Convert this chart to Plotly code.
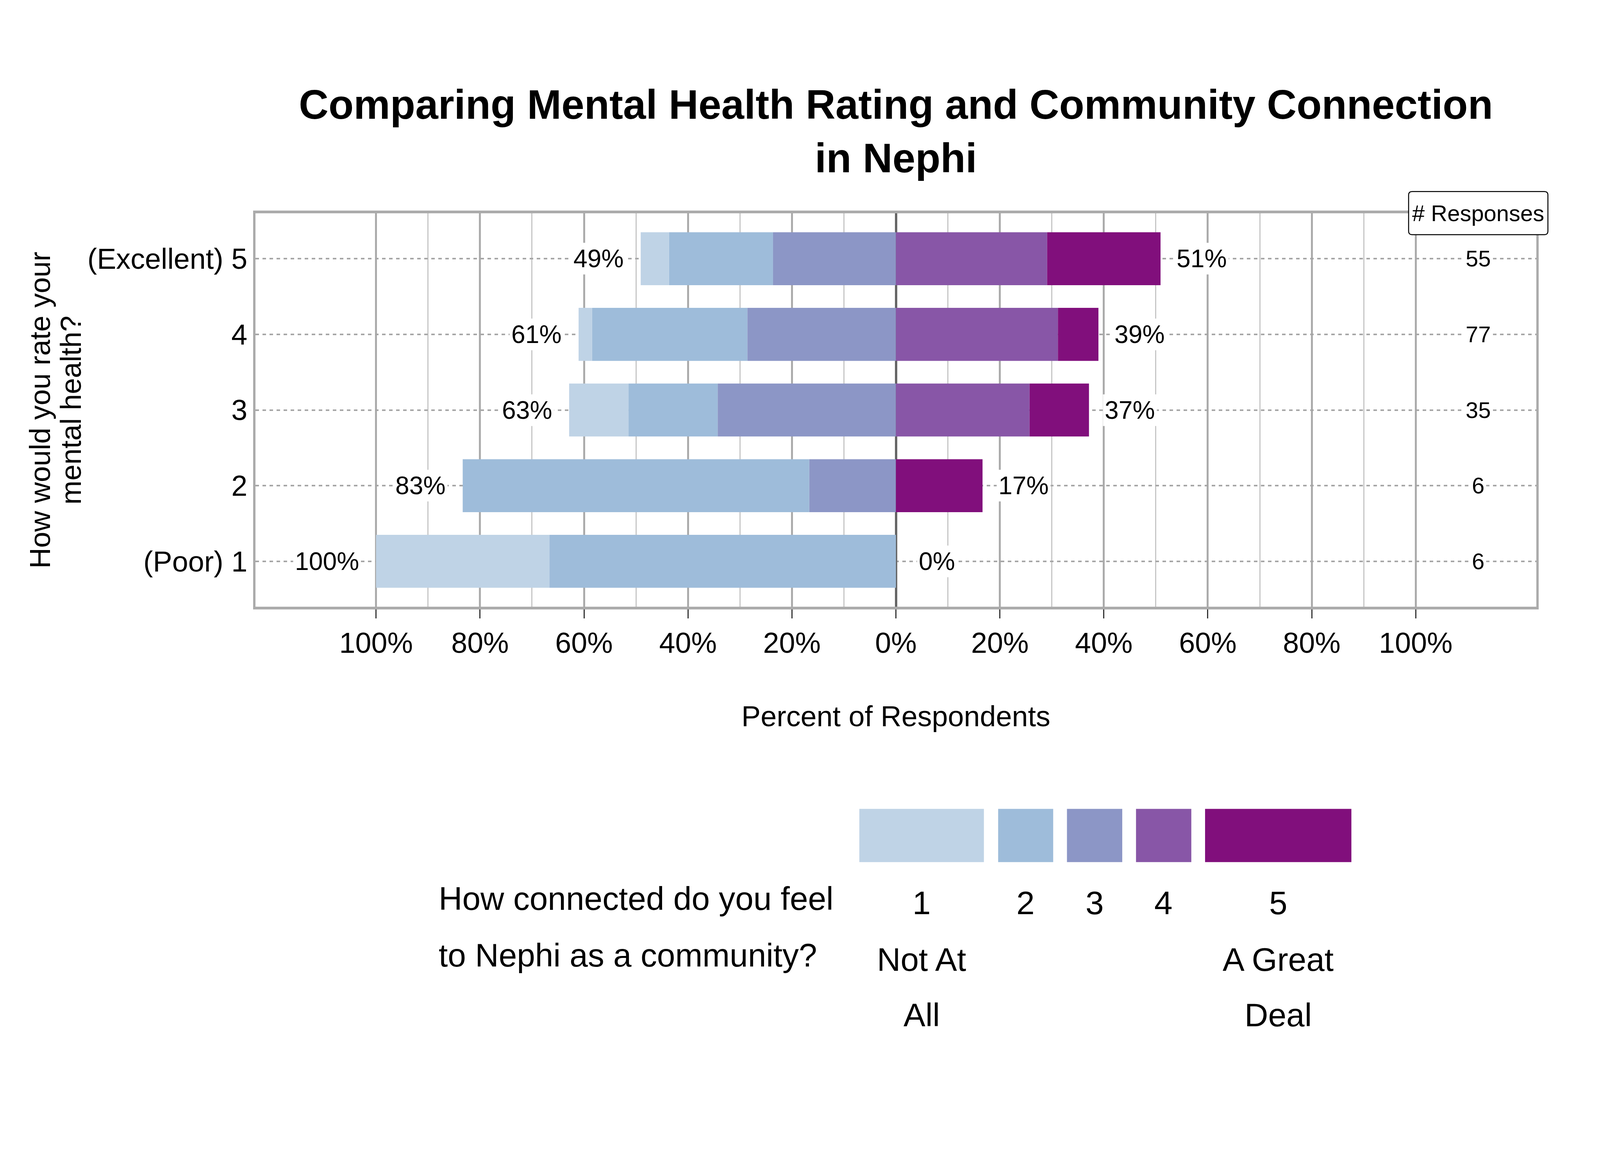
import plotly.graph_objects as go

# mental health rating (rows) and its tick labels
ratings = [1, 2, 3, 4, 5]
rating_labels = ["(Poor) 1", "2", "3", "4", "(Excellent) 5"]

# responses per community-connection level, for mental health ratings 1..5
conn_1 = [2, 0, 4, 2, 3]
conn_2 = [4, 4, 6, 23, 11]
conn_3 = [0, 1, 12, 22, 13]
conn_4 = [0, 0, 9, 24, 16]
conn_5 = [0, 1, 4, 6, 12]
n_responses = [6, 6, 35, 77, 55]

legend_labels = ["1<br>Not At<br>All", "2", "3", "4", "5<br>A Great<br>Deal"]
colors = ["#BFD3E6", "#9EBCDA", "#8C96C6", "#8856A7", "#810F7C"]

FONT = "Liberation Sans, Arial, sans-serif"

# the window is 4096x3000 (8px body margin); layout measured on the 6600x3000 reference
W, H = 4080, 2984
SX, SY = W / 6600, H / 3000
FS = 0.63  # font scale
L, R, T, B = 1045 * SX, 6350 * SX, 541 * SY, 1553 * SY


def ax_(x_ref, dx=0):
    return (x_ref * SX + dx - L) / (R - L)


def ay_(y_ref, dy=0):
    return (B - (y_ref * SY + dy)) / (B - T)


def mid(size):
    # offset from baseline to the centre of a one-line text box
    return -0.45 * size


def pct(counts):
    return [c / n * 100 for c, n in zip(counts, n_responses)]


levels = [pct(conn_1), pct(conn_2), pct(conn_3), pct(conn_4), pct(conn_5)]
left_tot = [a + b + c for a, b, c in zip(levels[0], levels[1], levels[2])]
right_tot = [a + b for a, b in zip(levels[3], levels[4])]

fig = go.Figure()

# low-connection side stacks outward from 0: level 3, then 2, then 1
for k in [2, 1, 0]:
    fig.add_trace(go.Bar(
        y=ratings, x=[-v for v in levels[k]], orientation="h",
        marker=dict(color=colors[k], line=dict(width=0)),
        width=0.7, showlegend=False, name=str(k + 1),
    ))
for k in [3, 4]:
    fig.add_trace(go.Bar(
        y=ratings, x=levels[k], orientation="h",
        marker=dict(color=colors[k], line=dict(width=0)),
        width=0.7, showlegend=False, name=str(k + 1),
    ))

annotations = []
shapes = []
f_pct, f_n, f_ax, f_leg, f_title = 102 * FS, 92 * FS, 117 * FS, 133 * FS, 167 * FS

# percent labels either side of the bars
for y, lt, rt in zip(ratings, left_tot, right_tot):
    annotations.append(dict(
        x=-lt, y=y, xref="x", yref="y", text=f"{round(lt):.0f}%",
        xanchor="right", yanchor="middle", xshift=-(67 - 5) * SX, showarrow=False,
        bgcolor="white", borderpad=4, font=dict(size=f_pct, color="black"),
    ))
    annotations.append(dict(
        x=rt, y=y, xref="x", yref="y", text=f"{round(rt):.0f}%",
        xanchor="center", yanchor="middle", xshift=170 * SX, showarrow=False,
        bgcolor="white", borderpad=4, font=dict(size=f_pct, color="black"),
    ))

# response counts column
for y, n in zip(ratings, n_responses):
    annotations.append(dict(
        x=112, y=y, xref="x", yref="y", text=str(n), showarrow=False,
        xanchor="center", yanchor="middle",
        bgcolor="white", borderpad=4, font=dict(size=f_n, color="black"),
    ))

# rounded label box for the counts header
bx0, bx1, by0, by1, rad = 5821 * SX, 6398 * SX, 485 * SY, 596 * SY, 9
pw, ph = R - L, B - T


def pt(x, y):
    return f"{(x - L) / pw:.5f},{(B - y) / ph:.5f}"


shapes.append(dict(
    type="path", xref="paper", yref="paper", layer="above",
    path=(f"M {pt(bx0 + rad, by0)} L {pt(bx1 - rad, by0)} Q {pt(bx1, by0)} {pt(bx1, by0 + rad)}"
          f" L {pt(bx1, by1 - rad)} Q {pt(bx1, by1)} {pt(bx1 - rad, by1)}"
          f" L {pt(bx0 + rad, by1)} Q {pt(bx0, by1)} {pt(bx0, by1 - rad)}"
          f" L {pt(bx0, by0 + rad)} Q {pt(bx0, by0)} {pt(bx0 + rad, by0)} Z"),
    fillcolor="white", line=dict(color="black", width=2.5),
))
annotations.append(dict(
    x=ax_((5821 + 6398) / 2), y=ay_((485 + 596) / 2), xref="paper", yref="paper",
    text="# Responses", showarrow=False, xanchor="center", yanchor="middle",
    font=dict(size=f_n, color="black"),
))

# axis titles
annotations.append(dict(
    x=0.5, y=ay_(1868, mid(f_ax)), xref="paper", yref="paper",
    text="Percent of Respondents", showarrow=False,
    xanchor="center", yanchor="middle", font=dict(size=f_ax, color="black"),
))
for line, base in zip(["How would you rate your", "mental health?"], [207, 335]):
    annotations.append(dict(
        x=ax_(base, mid(f_ax)), y=0.5, xref="paper", yref="paper",
        textangle=-90, text=line, showarrow=False,
        xanchor="center", yanchor="middle", font=dict(size=f_ax, color="black"),
    ))

# legend drawn by hand, ggplot-style
legend_boxes = [(3546, 4062), (4121, 4349), (4406, 4635), (4692, 4921), (4978, 5584)]
box_top, box_bottom = 2073, 2210
label_baselines = [2353, 2498, 2641]
for (x0, x1), col, lab in zip(legend_boxes, colors, legend_labels):
    shapes.append(dict(
        type="rect", xref="paper", yref="paper",
        x0=ax_(x0), x1=ax_(x1), y0=ay_(box_bottom), y1=ay_(box_top),
        fillcolor=col, line=dict(width=0),
    ))
    for line, base in zip(lab.split("<br>"), label_baselines):
        annotations.append(dict(
            x=ax_((x0 + x1) / 2), y=ay_(base, mid(f_leg)),
            xref="paper", yref="paper", text=line, showarrow=False,
            xanchor="center", yanchor="middle",
            font=dict(size=f_leg, color="black"),
        ))

legend_title = ["How connected do you feel", "to Nephi as a community?"]
for line, base in zip(legend_title, [2342, 2487]):
    annotations.append(dict(
        x=ax_(1801), y=ay_(base, mid(f_leg)), xref="paper", yref="paper",
        text=line, showarrow=False, xanchor="left", yanchor="middle",
        font=dict(size=f_leg, color="black"),
    ))

fig.update_layout(
    width=W, height=H, autosize=False,
    margin=dict(l=L, r=W - R, t=T, b=H - B, pad=0),
    paper_bgcolor="white", plot_bgcolor="white",
    font=dict(family=FONT, color="black"),
    barmode="relative",
    title=dict(
        text="Comparing Mental Health Rating and Community Connection<br>in Nephi",
        x=0.5, xref="paper", xanchor="center",
        y=1 - 296 / H, yref="container", yanchor="middle",
        font=dict(size=f_title, weight="bold", color="black"),
    ),
    xaxis=dict(
        range=[-123.2, 123.2],
        tickmode="array",
        tickvals=[-100, -80, -60, -40, -20, 0, 20, 40, 60, 80, 100],
        ticktext=["100%", "80%", "60%", "40%", "20%", "0%",
                  "20%", "40%", "60%", "80%", "100%"],
        tickfont=dict(size=f_ax, color="black"),
        ticks="outside", ticklen=23, tickwidth=3, tickcolor="#333333",
        showgrid=True, gridcolor="#ABABAB", gridwidth=4.5,
        minor=dict(tickvals=[-90, -70, -50, -30, -10, 10, 30, 50, 70, 90],
                   showgrid=True, gridcolor="#C6C6C6", gridwidth=2.5, ticks=""),
        zeroline=True, zerolinecolor="#666666", zerolinewidth=5.5,
        showline=True, linecolor="#ABABAB", linewidth=7, mirror=True,
        fixedrange=True,
    ),
    yaxis=dict(
        range=[0.4, 5.6],
        tickmode="array", tickvals=ratings, ticktext=rating_labels,
        tickfont=dict(size=f_ax, color="black"),
        ticks="",
        showgrid=True, gridcolor="#A6A6A6", gridwidth=3.5, griddash="9px,9px",
        zeroline=False,
        showline=True, linecolor="#ABABAB", linewidth=6, mirror=True,
        fixedrange=True,
    ),
    shapes=shapes,
    annotations=annotations,
)

fig.write_html("out.html")
